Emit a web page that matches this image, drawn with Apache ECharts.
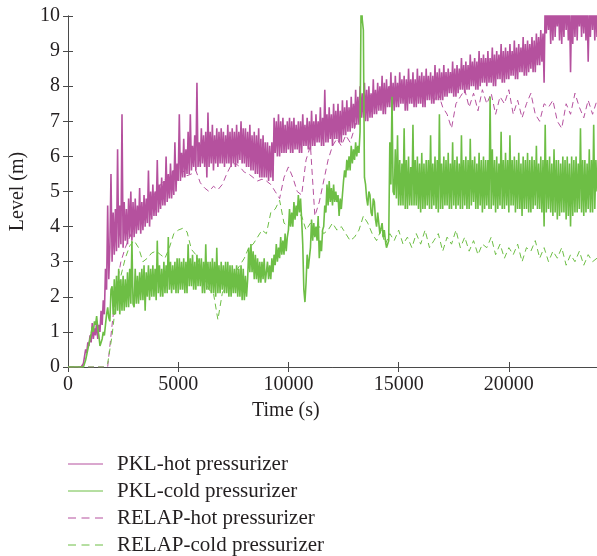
<!DOCTYPE html>
<html>
<head>
<meta charset="utf-8">
<script src="https://cdn.jsdelivr.net/npm/echarts@6/dist/echarts.min.js"></script>
<style>
html,body{margin:0;padding:0;background:#fff;}
#chart{width:597px;height:556px;}
</style>
</head>
<body>
<div id="chart"></div>
<script>
// ---- data ----
const seriesNames = ['PKL-hot pressurizer', 'PKL-cold pressurizer', 'RELAP-hot pressurizer', 'RELAP-cold pressurizer'];
const xTicks = [0, 5000, 10000, 15000, 20000];
const xMax = 24000;
const yTicks = [0, 1, 2, 3, 4, 5, 6, 7, 8, 9, 10];

// PKL measurements, one value every 50 s from 0 to 24000 s
const pklStep = 50;
const pklHot = [
  0,0,0,0,0,0,0,0,0,0,0,0,0,0.02,0.1,0.3,0.5,0.4,0.7,0.6,
  0.9,0.7,1.25,0.8,1.1,0.9,1.3,0.8,1.2,1.0,1.6,1.2,1.9,1.5,2.8,2.2,4.6,2.5,3.4,5.5,
  3.0,4.4,3.2,4.5,3.3,6.2,3.4,4.6,3.5,7.2,3.4,4.7,3.6,4.5,3.5,4.8,3.7,5.0,3.6,4.7,
  3.7,4.8,3.8,4.6,3.9,5.1,3.8,4.7,3.9,4.9,4.0,4.8,4.1,5.6,4.0,5.0,4.2,5.2,4.3,5.0,
  4.3,5.9,4.4,5.2,4.5,5.4,4.6,5.3,4.6,6.0,4.7,5.5,4.8,5.8,4.8,5.6,4.9,6.4,5.0,5.8,
  5.3,7.2,5.3,6.1,5.4,6.5,5.4,6.2,5.5,6.7,5.5,7.2,5.6,6.3,5.7,6.6,5.6,8.1,5.7,6.4,
  5.7,6.8,5.8,6.6,5.7,6.7,5.4,7.25,5.7,6.7,5.8,6.9,5.6,6.6,5.8,6.8,5.7,6.7,5.8,6.8,
  5.8,6.7,5.7,6.6,5.8,6.9,5.8,6.7,5.7,6.8,5.8,6.7,5.7,6.9,5.8,6.7,5.9,7.0,5.8,6.8,
  5.8,6.8,5.7,6.7,5.7,6.9,5.6,6.6,5.6,6.7,5.5,6.6,5.5,6.8,5.4,6.5,5.4,6.6,5.4,6.4,
  5.4,6.4,5.3,6.3,5.4,6.4,5.3,7.1,6.1,7.0,6.0,7.2,6.0,7.0,6.1,7.1,6.1,6.9,6.1,7.0,
  6.2,7.1,6.1,7.0,6.1,7.1,6.2,6.9,6.2,7.0,6.1,7.0,6.1,7.2,6.3,6.9,6.3,7.1,6.2,7.0,
  6.2,7.3,6.3,7.0,6.3,7.2,6.4,7.0,6.4,7.4,6.3,7.1,6.3,7.9,6.4,7.2,6.4,7.4,6.5,7.2,
  6.3,7.5,6.5,7.3,6.5,7.5,6.4,7.3,6.4,7.6,6.6,7.4,6.6,7.6,6.7,7.4,6.7,7.7,6.8,7.5,
  6.8,7.9,6.9,7.7,6.9,8.0,7.1,7.8,7.1,8.1,7.0,7.9,7.0,8.0,7.1,7.8,7.1,8.2,7.2,7.9,
  7.2,8.1,7.3,8.0,7.3,8.3,7.2,8.1,7.2,8.2,7.4,8.0,7.4,8.4,7.3,8.1,7.3,8.3,7.4,8.1,
  7.4,8.4,7.5,8.2,7.5,8.3,7.3,8.2,7.3,8.5,7.5,8.2,7.5,8.4,7.4,8.2,7.4,8.5,7.5,8.3,
  7.5,8.4,7.4,8.3,7.4,8.5,7.6,8.3,7.6,8.4,7.5,8.3,7.5,8.6,7.6,8.4,7.6,8.5,7.6,8.4,
  7.6,8.6,7.7,8.4,7.7,8.5,7.8,8.4,7.8,8.7,7.7,8.5,7.7,8.6,7.8,8.5,7.9,8.8,7.9,8.6,
  7.8,8.7,7.9,8.6,7.9,8.9,8.0,8.7,8.0,8.8,7.9,8.7,7.9,9.0,8.0,8.8,8.1,8.9,8.1,8.8,
  8.0,9.0,8.1,8.8,8.1,9.1,8.0,8.9,8.0,9.0,8.2,8.9,8.2,9.2,8.1,9.0,8.1,9.1,8.2,9.0,
  8.2,9.2,8.3,9.0,8.3,9.3,8.2,9.1,8.2,9.2,8.4,9.1,8.4,9.4,8.3,9.2,8.3,9.3,8.4,9.2,
  8.5,9.4,8.4,9.3,8.4,9.5,8.6,9.4,8.6,9.6,8.7,9.5,8.1,10.5,9.5,10.3,9.6,10.4,9.2,10.5,
  9.3,10.6,9.4,10.3,9.7,10.5,9.3,10.4,9.2,10.4,9.4,10.6,9.6,10.5,9.3,10.4,8.4,10.3,9.2,10.5,
  9.4,10.6,9.3,10.4,9.7,10.4,9.4,10.5,9.5,10.5,9.3,10.4,8.7,10.3,9.4,10.5,9.6,10.5,9.3,10.4,
  9.4
];
const pklCold = [
  0,0,0,0,0,0,0,0,0,0,0,0,0,0,0,0,0.2,0.35,0.5,0.65,
  0.8,0.95,1.15,1.0,1.3,1.2,1.45,1.1,0.9,0.6,0.6,0.8,1.0,0.9,1.2,1.5,1.7,1.4,1.3,2.2,
  2.3,1.5,2.5,1.5,2.6,1.6,2.8,1.5,2.5,1.6,2.6,1.6,2.5,1.7,2.7,1.7,2.8,1.8,3.6,1.8,
  1.7,2.8,1.8,2.6,1.8,2.7,1.9,2.8,1.9,2.9,1.6,2.7,2.0,2.9,1.9,2.8,2.0,2.9,2.0,2.8,
  1.9,3.6,2.1,2.9,2.0,2.8,2.0,3.0,2.1,2.9,2.1,3.7,2.2,3.0,2.1,2.9,2.2,3.0,2.1,3.1,
  2.1,3.1,2.2,3.0,2.2,3.1,2.1,3.0,2.1,3.5,2.3,3.1,2.3,3.2,2.2,3.0,2.2,3.2,2.3,3.1,
  2.3,3.1,2.1,3.0,2.1,3.5,2.2,3.0,2.2,3.0,2.1,3.1,2.1,3.0,2.0,3.4,2.1,2.9,2.1,3.0,
  2.2,2.9,2.1,3.0,2.1,3.0,2.0,2.9,2.0,2.9,2.1,2.8,2.1,2.9,2.0,2.8,2.0,2.9,1.9,2.8,
  1.9,2.6,2.0,2.5,3.4,2.7,3.5,2.7,3.3,2.5,3.2,2.5,3.1,2.4,3.0,2.4,3.0,2.5,3.1,2.4,
  2.4,3.0,2.5,2.9,2.5,3.1,2.7,3.2,2.9,3.5,3.0,3.4,3.1,3.7,3.2,3.6,3.2,3.8,3.3,3.7,
  3.9,4.5,4.0,4.4,4.0,4.7,4.2,4.6,4.3,4.9,4.4,4.8,4.2,3.5,2.2,1.85,2.4,3.2,2.8,3.1,
  3.4,4.2,3.6,4.1,3.7,4.0,3.6,4.3,3.1,3.6,3.3,3.9,4.0,4.6,4.4,5.2,4.6,5.3,4.7,5.1,
  4.6,5.2,4.7,5.0,4.7,4.9,4.3,4.8,4.5,4.9,5.3,5.6,5.4,5.9,5.6,6.0,5.6,6.3,5.8,6.2,
  5.9,6.4,6.0,6.3,6.1,6.7,10.6,9.9,9.6,5.4,5.2,4.8,4.6,5.0,4.9,4.4,4.3,4.8,4.7,4.2,
  4.0,4.4,4.1,3.8,3.8,4.1,3.7,3.9,3.6,3.4,3.4,3.6,6.4,5.2,7.7,5.0,4.9,6.2,4.8,6.6,
  4.6,5.9,4.6,5.8,4.6,6.8,4.5,5.9,4.5,6.0,4.6,5.7,4.6,6.9,4.6,5.9,4.6,6.0,4.5,5.8,
  4.4,6.1,4.5,5.8,4.5,5.9,4.6,5.9,4.5,6.6,4.5,5.8,4.6,6.0,4.5,5.9,4.4,7.2,4.5,5.8,
  4.5,6.0,4.6,5.9,4.6,6.1,4.5,5.8,4.5,6.4,4.6,5.9,4.5,6.0,4.6,5.8,4.5,6.6,4.5,5.9,
  4.6,6.0,4.5,5.9,4.5,6.5,4.6,5.9,4.7,6.0,4.5,5.8,4.5,6.1,4.6,5.9,4.4,6.0,4.5,5.9,
  4.6,5.9,4.5,7.7,4.5,6.2,4.6,5.9,4.4,6.0,4.5,5.8,4.6,6.7,4.5,5.9,4.5,6.1,4.6,5.9,
  4.4,6.6,4.6,5.9,4.6,6.0,4.4,5.9,4.5,6.1,4.5,5.8,4.3,6.0,4.5,5.9,4.5,6.1,4.4,5.9,
  4.4,6.0,4.5,5.9,4.6,6.3,4.5,5.8,4.5,6.0,4.4,5.9,4.0,6.9,4.4,5.9,4.5,6.0,4.4,5.8,
  4.3,6.2,4.4,5.9,4.2,5.9,4.3,5.8,4.4,6.0,4.4,5.9,4.2,6.0,4.3,5.8,4.0,6.0,4.3,5.9,
  4.4,6.0,4.4,5.8,4.5,6.8,4.4,5.9,4.3,5.9,4.4,5.8,4.5,6.2,4.4,5.9,4.4,6.9,4.5,5.9,
  5.0
];

// RELAP calculations, one value every 200 s from 0 to 24000 s
const relapStep = 200;
const relapHot = [
  0,0,0,0,0,0,0,0,0,0,
  1.2,2.3,3.0,3.4,3.7,4.0,4.2,4.4,4.6,4.8,
  5.0,5.2,5.35,5.5,5.6,5.7,5.6,5.45,5.5,5.6,
  5.25,5.1,5.0,5.15,5.05,5.2,5.5,5.75,5.8,5.7,
  5.55,5.5,5.4,5.3,5.35,5.3,5.2,5.0,4.8,5.4,
  5.7,5.4,5.0,4.9,5.9,6.3,4.3,4.7,5.3,5.9,
  6.3,6.5,6.3,6.6,6.4,6.8,7.4,7.7,7.6,7.8,
  7.7,7.9,7.8,8.0,7.9,8.0,7.9,8.1,8.0,7.9,
  7.8,7.7,7.9,7.6,7.8,7.4,7.2,6.8,7.5,7.7,
  7.9,7.4,7.8,7.3,7.9,7.5,7.8,7.2,7.7,7.5,
  7.9,7.2,7.6,7.1,7.5,7.8,7.2,7.0,7.5,7.4,
  7.6,7.0,6.8,7.5,7.2,7.8,7.4,7.1,7.6,7.2,
  7.6
];
const relapCold = [
  0,0,0,0,0,0,0,0,0,0.1,
  0.9,2.0,2.6,3.1,3.45,3.6,3.4,3.0,3.1,3.25,
  3.3,3.2,3.1,3.4,3.8,3.9,3.95,3.85,3.35,3.2,
  2.9,2.5,2.2,2.1,1.35,2.1,2.4,2.6,2.7,2.9,
  3.1,3.4,3.5,3.7,3.9,3.8,4.4,4.5,4.75,4.1,
  4.0,4.2,4.4,4.3,3.9,4.1,3.8,4.0,3.8,3.9,
  4.1,3.9,4.0,3.8,3.6,3.7,3.9,4.3,4.1,3.8,
  3.6,3.9,3.5,3.8,3.6,3.9,3.5,3.7,3.4,3.8,
  3.5,3.9,3.4,3.6,3.8,3.3,3.7,3.5,3.9,3.4,
  3.7,3.3,3.6,3.2,3.5,3.4,3.7,3.2,3.5,3.1,
  3.4,3.2,3.5,3.0,3.4,3.3,3.6,3.1,3.4,3.0,
  3.3,3.1,3.4,2.9,3.2,3.0,3.3,2.9,3.2,3.0,
  3.1
];

// ---- chart ----
const HOT = '#b5519e';
const COLD = '#6dbe45';
const FONT = '"Liberation Serif", "Times New Roman", serif';
const TXT = '#231f20';
const AX = '#4a4a4a';
const DASH = [6, 4];

function pairs(step, vals) { return vals.map((v, i) => [i * step, v]); }

const chart = echarts.init(document.getElementById('chart'), null, {renderer: 'canvas'});

const axisBase = {
  type: 'value',
  axisLine: {show: true, lineStyle: {color: AX, width: 1}},
  axisTick: {show: true, inside: true, length: 5, lineStyle: {color: AX}},
  splitLine: {show: false}
};

// legend drawn as graphic rows (line sample + label)
const legendRows = [
  {name: seriesNames[0], color: HOT, dash: null},
  {name: seriesNames[1], color: COLD, dash: null},
  {name: seriesNames[2], color: HOT, dash: [8, 5.5]},
  {name: seriesNames[3], color: COLD, dash: [8, 5.5]}
];
const legendY = [464, 491, 518, 545];
const legendGraphics = [];
legendRows.forEach((r, i) => {
  legendGraphics.push({
    type: 'line', silent: true,
    shape: {x1: 68, y1: legendY[i], x2: 103, y2: legendY[i]},
    style: {stroke: r.color, lineWidth: 1, lineDash: r.dash}
  });
  legendGraphics.push({
    type: 'text', silent: true, x: 117, y: legendY[i],
    style: {text: r.name, font: '21px ' + FONT, fill: TXT, verticalAlign: 'middle', align: 'left'}
  });
});

chart.setOption({
  animation: false,
  backgroundColor: '#fff',
  grid: {left: 68, right: 0, top: 16, bottom: 189, containLabel: false},
  xAxis: [
    Object.assign({}, axisBase, {
      position: 'bottom', min: xTicks[0], max: xMax, interval: xTicks[1] - xTicks[0],
      axisLabel: {fontFamily: FONT, fontSize: 20, color: TXT, margin: 8, showMaxLabel: false,
        formatter: v => (xTicks.indexOf(v) >= 0 ? String(v) : '')}
    }),
    Object.assign({}, axisBase, {
      position: 'top', min: xTicks[0], max: xMax, interval: xTicks[1] - xTicks[0],
      axisLabel: {show: false}
    })
  ],
  yAxis: [
    Object.assign({}, axisBase, {
      position: 'left', min: yTicks[0], max: yTicks[yTicks.length - 1], interval: 1,
      axisLabel: {fontFamily: FONT, fontSize: 20, color: TXT, margin: 8},
      name: 'Level (m)', nameLocation: 'middle', nameGap: 40,
      nameTextStyle: {fontFamily: FONT, fontSize: 20, color: TXT}
    }),
    Object.assign({}, axisBase, {
      position: 'right', min: yTicks[0], max: yTicks[yTicks.length - 1], interval: 1,
      axisLabel: {show: false}
    })
  ],
  graphic: [{
    type: 'text', left: 252, top: 401,
    style: {text: 'Time (s)', font: '20px ' + FONT, fill: TXT}
  }].concat(legendGraphics),
  series: [
    {name: seriesNames[2], type: 'line', data: pairs(relapStep, relapHot), showSymbol: false, symbol: 'none',
      lineStyle: {color: HOT, width: 1, type: DASH}, itemStyle: {color: HOT}, clip: true},
    {name: seriesNames[3], type: 'line', data: pairs(relapStep, relapCold), showSymbol: false, symbol: 'none',
      lineStyle: {color: COLD, width: 1, type: DASH}, itemStyle: {color: COLD}, clip: true},
    {name: seriesNames[0], type: 'line', data: pairs(pklStep, pklHot), showSymbol: false, symbol: 'none',
      lineStyle: {color: HOT, width: 1.6, join: 'bevel'}, itemStyle: {color: HOT}, clip: true},
    {name: seriesNames[1], type: 'line', data: pairs(pklStep, pklCold), showSymbol: false, symbol: 'none',
      lineStyle: {color: COLD, width: 1.6, join: 'bevel'}, itemStyle: {color: COLD}, clip: true}
  ]
});
</script>
</body>
</html>
